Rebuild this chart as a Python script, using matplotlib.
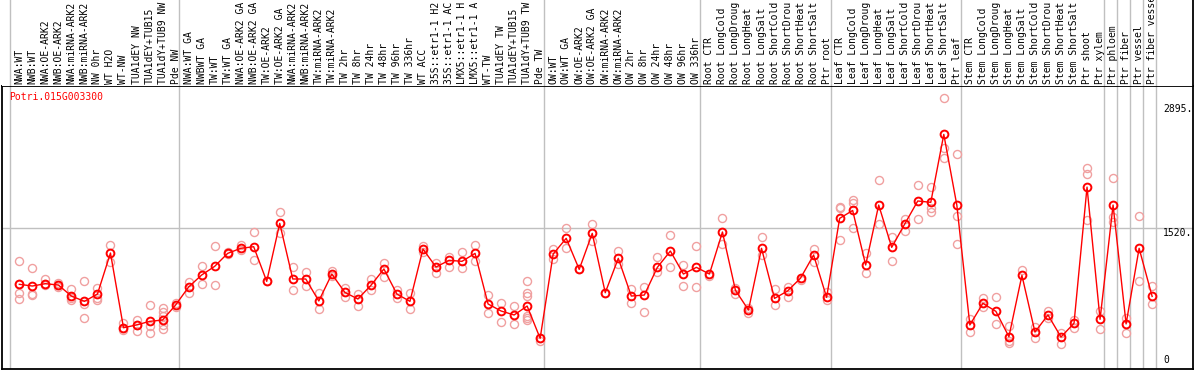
import numpy as np
import matplotlib
matplotlib.use("Agg")
import matplotlib.pyplot as plt

gene = "Potri.015G003300"

labels = [
    "NWA:WT", "NWB:WT", "NWA:OE-ARK2", "NWB:OE-ARK2", "NWA:miRNA-ARK2", "NWB:miRNA-ARK2",
    "NW 0hr", "WT H2O", "WT-NW", "TUA1dEY NW", "TUA1dEY+TUB15", "TUA1dY+TUB9 NW", "Pde NW",
    "NWA:WT GA", "NWBWT GA", "TW:WT", "TW:WT GA", "NWA:OE-ARK2 GA", "NWB:OE-ARK2 GA",
    "TW:OE-ARK2", "TW:OE-ARK2 GA", "NWA:miRNA-ARK2", "NWB:miRNA-ARK2", "TW:miRNA-ARK2",
    "TW:miRNA-ARK2", "TW 2hr", "TW 8hr", "TW 24hr", "TW 48hr", "TW 96hr", "TW 336hr",
    "WT ACC", "35S::etr1-1 H2", "35S::etr1-1 AC", "LMX5::etr1-1 H", "LMX5::etr1-1 A",
    "WT-TW", "TUA1dEY TW", "TUA1dEY+TUB15", "TUA1dY+TUB9 TW", "Pde TW",
    "OW:WT", "OW:WT GA", "OW:OE-ARK2", "OW:OE-ARK2 GA", "OW:miRNA-ARK2", "OW:miRNA-ARK2",
    "OW 2hr", "OW 8hr", "OW 24hr", "OW 48hr", "OW 96hr", "OW 336hr",
    "Root CTR", "Root LongCold", "Root LongDroug", "Root LongHeat", "Root LongSalt",
    "Root ShortCold", "Root ShortDrou", "Root ShortHeat", "Root ShortSalt", "Ptr root",
    "Leaf CTR", "Leaf LongCold", "Leaf LongDroug", "Leaf LongHeat", "Leaf LongSalt",
    "Leaf ShortCold", "Leaf ShortDrou", "Leaf ShortHeat", "Leaf ShortSalt", "Ptr leaf",
    "Stem CTR", "Stem LongCold", "Stem LongDroug", "Stem LongHeat", "Stem LongSalt",
    "Stem ShortCold", "Stem ShortDrou", "Stem ShortHeat", "Stem ShortSalt", "Ptr shoot",
    "Ptr xylem", "Ptr phloem", "Ptr fiber", "Ptr vessel", "Ptr fiber vessel",
]

# mean expression per sample
means = [
    899, 880, 906, 891, 769, 710, 791, 1246, 418, 448,
    488, 503, 669, 869, 1002, 1098, 1242, 1298, 1316, 932,
    1575, 958, 958, 714, 1013, 810, 736, 887, 1069, 791,
    710, 1290, 1091, 1165, 1154, 1242, 681, 603, 559, 658,
    300, 1235, 1409, 1065, 1464, 806, 1187, 769, 780, 1087,
    1268, 1013, 1087, 1013, 1479, 832, 614, 1298, 743, 825,
    968, 1224, 754, 1630, 1718, 1113, 1778, 1309, 1568, 1823,
    1808, 2561, 1778, 448, 688, 599, 318, 998, 370, 559,
    315, 467, 1977, 511, 1778, 460, 1298, 765,
]

# individual replicates per sample
replicates = [
    [1157, 899, 799, 736], [1080, 791, 776], [961, 887, 906], [917, 865, 891],
    [847, 725, 743], [936, 677, 522], [854, 743, 721], [1331, 1142],
    [474, 396, 418], [503, 377, 448], [669, 433, 355], [640, 595, 551, 448, 400],
    [688, 647], [928, 805], [1098, 899], [1320, 891], [1253, 1230], [1331, 1279],
    [1479, 1169], [932], [1697, 1464], [1091, 836], [1035, 876], [799, 625],
    [1050, 987], [854, 754], [791, 655], [958, 839], [1139, 976], [839, 743],
    [799, 625], [1324, 1261], [1139, 1021], [1205, 1095], [1257, 1084], [1335, 1157],
    [780, 577], [688, 477], [658, 455], [936, 799, 773, 551, 522, 503], [270, 300],
    [1286, 1179], [1520, 1298], [1065], [1564, 1379], [806], [1268, 1120],
    [847, 688], [865, 589], [1198, 1039], [1442, 1095], [1113, 880], [1320, 869],
    [991], [1630, 1343], [854, 795], [584, 640], [1420, 1224], [847, 669], [872, 754],
    [950], [1290, 1142], [817, 725], [1760, 1749, 1390], [1833, 1796, 1520],
    [1242, 1021], [2051, 1564], [1427, 1157], [1620, 1494], [2000, 1620],
    [1981, 1741, 1697], [2961, 2406, 2295], [2340, 1656, 1342], [511, 367],
    [743, 651], [758, 459], [437, 271, 245], [1057], [429, 300], [607, 522],
    [356, 234], [503, 414], [2192, 2118, 1612], [603, 400], [2074, 1649, 1594],
    [529, 356], [1656, 936], [876, 677],
]

# first sample index of each group (separator drawn before it)
group_starts = [0, 13, 41, 53, 63, 73, 84, 85, 86, 87, 88]
ytick_vals = [2895, 1520, 0]

W, H = 1194, 370
fig = plt.figure(figsize=(W / 100, H / 100), dpi=100)

x = np.arange(len(means))
xlim = (-1.33, 90.1)
head_px = 86
ax = fig.add_axes([2 / W, 1 / H, 1190.5 / W, (H - 1 - head_px) / H])
hx = fig.add_axes([2 / W, 1 - head_px / H, 1190.5 / W, head_px / H])

for a in (ax, hx):
    a.set_xlim(*xlim)
    a.set_xticks([])
    a.set_yticks([])
    for g in group_starts:
        a.axvline(g - 0.7, color="#c0c0c0", lw=1.0, zorder=0)

ax.set_ylim(-40, 3098)
ax.axhline(1520, color="#c0c0c0", lw=1.0, zorder=0)
for s in ax.spines.values():
    s.set_color("black")
    s.set_linewidth(1.3)
for name, s in hx.spines.items():
    s.set_visible(name == "right")
    s.set_linewidth(1.3)
hx.set_ylim(0, 1)

# replicates
for i, reps in enumerate(replicates):
    ax.plot([i] * len(reps), reps, "o", ms=5.8, mfc="none", mec="#f0a0a0", mew=1.0, zorder=2)

ax.plot(x, means, "-", color="red", lw=1.0, zorder=3)
ax.plot(x, means, "o", ms=5.6, mfc="none", mec="red", mew=1.4, zorder=4)

mono = "DejaVu Sans Mono"
for i, lab in enumerate(labels):
    hx.text(i, 0.02, lab, rotation=90, ha="center", va="bottom", fontsize=7.0,
            family=mono, clip_on=False)

for v in ytick_vals:
    ax.text(87.84, v, str(v) if v == 0 else f"{v}.", ha="left",
            va="bottom" if v == 0 else "top", fontsize=7.0, family=mono)

fig.text(9 / W, 1 - 97 / H, gene, color="red", fontsize=7.0, family=mono,
         ha="left", va="center")

fig.savefig("out.png", dpi=100)
